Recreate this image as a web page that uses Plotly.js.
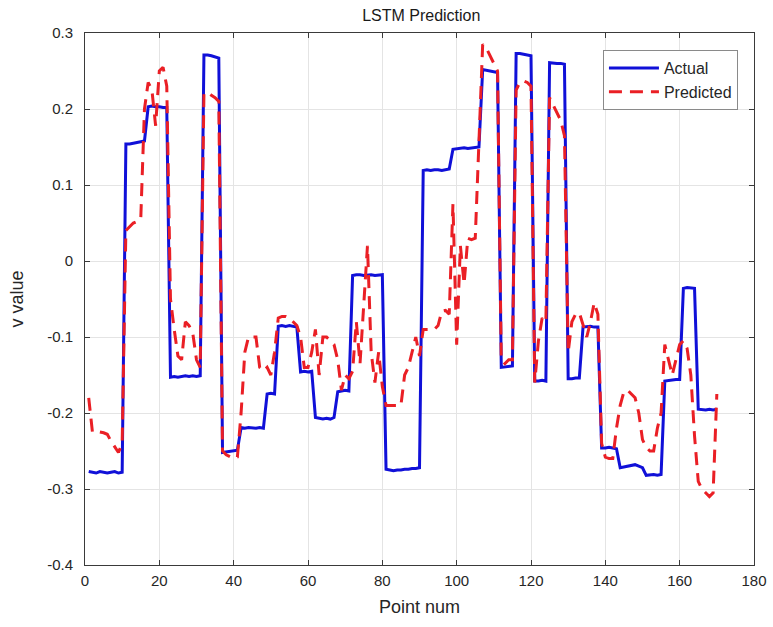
<!DOCTYPE html>
<html>
<head>
<meta charset="utf-8">
<script src="https://cdn.plot.ly/plotly-3.0.1.min.js"></script>
<style>html,body{margin:0;padding:0;background:#fff;}#chart{width:773px;height:627px;}</style>
</head>
<body>
<div id="chart"></div>
<script>
const pointNum = [1,2,3,4,5,6,7,8,9,10,11,12,13,14,15,16,17,18,19,20,21,22,23,24,25,26,27,28,29,30,31,32,33,34,35,36,37,38,39,40,41,42,43,44,45,46,47,48,49,50,51,52,53,54,55,56,57,58,59,60,61,62,63,64,65,66,67,68,69,70,71,72,73,74,75,76,77,78,79,80,81,82,83,84,85,86,87,88,89,90,91,92,93,94,95,96,97,98,99,100,101,102,103,104,105,106,107,108,109,110,111,112,113,114,115,116,117,118,119,120,121,122,123,124,125,126,127,128,129,130,131,132,133,134,135,136,137,138,139,140,141,142,143,144,145,146,147,148,149,150,151,152,153,154,155,156,157,158,159,160,161,162,163,164,165,166,167,168,169,170];

const actual = [
 -0.277,-0.278,-0.279,-0.277,-0.278,-0.279,-0.278,-0.277,-0.279,-0.278,
 0.154,0.154,0.155,0.156,0.157,0.158,
 0.203,0.204,0.203,0.203,0.202,0.202,
 -0.153,-0.152,-0.153,-0.152,-0.151,-0.152,-0.151,-0.152,-0.151,
 0.271,0.271,0.270,0.269,0.267,
 -0.252,-0.251,-0.250,-0.250,-0.249,
 -0.219,-0.220,-0.219,-0.220,-0.220,-0.219,-0.220,
 -0.175,-0.174,-0.175,
 -0.086,-0.085,-0.086,-0.085,-0.086,-0.087,
 -0.146,-0.145,-0.146,-0.145,
 -0.206,-0.207,-0.208,-0.207,-0.208,-0.206,
 -0.172,-0.171,-0.170,-0.171,
 -0.019,-0.018,-0.018,-0.019,-0.018,-0.018,-0.019,-0.018,-0.018,
 -0.274,-0.275,-0.276,-0.275,-0.275,-0.274,-0.274,-0.273,-0.273,-0.272,
 0.119,0.120,0.119,0.120,0.120,0.119,0.120,0.121,
 0.147,0.148,0.148,0.149,0.148,0.149,0.150,0.150,
 0.252,0.251,0.250,0.250,0.248,
 -0.140,-0.139,-0.139,-0.138,
 0.273,0.273,0.272,0.271,0.270,
 -0.158,-0.158,-0.157,-0.158,
 0.261,0.260,0.260,0.260,0.259,
 -0.155,-0.155,-0.154,-0.154,
 -0.087,-0.086,-0.086,-0.087,-0.087,
 -0.246,-0.246,-0.245,-0.246,-0.247,
 -0.272,-0.271,-0.270,-0.269,-0.268,-0.270,-0.272,
 -0.282,-0.281,-0.281,-0.282,-0.281,
 -0.158,-0.157,-0.157,-0.156,-0.156,
 -0.036,-0.035,-0.036,-0.036,
 -0.195,-0.196,-0.196,-0.195,-0.196,-0.195
];

const predicted = [
 -0.180,-0.225,-0.226,-0.225,-0.226,-0.228,-0.237,-0.245,-0.252,-0.240,
 0.040,0.045,0.050,0.052,0.055,0.200,0.235,0.225,0.178,0.250,
 0.255,0.230,-0.050,-0.090,-0.125,-0.130,-0.080,-0.085,-0.095,-0.130,
 -0.140,0.220,0.222,0.218,0.215,0.210,-0.250,-0.255,-0.258,-0.260,
 -0.258,-0.200,-0.120,-0.100,-0.100,-0.100,-0.140,-0.145,-0.140,-0.150,
 -0.120,-0.075,-0.073,-0.073,-0.075,-0.080,-0.085,-0.100,-0.140,-0.140,
 -0.120,-0.090,-0.150,-0.100,-0.100,-0.105,-0.110,-0.130,-0.170,-0.150,
 -0.155,-0.145,-0.080,-0.135,-0.060,0.020,-0.120,-0.160,-0.120,-0.165,
 -0.190,-0.190,-0.190,-0.190,-0.190,-0.150,-0.140,-0.120,-0.100,-0.125,
 -0.090,-0.090,-0.090,-0.090,-0.085,-0.066,-0.065,-0.070,0.075,-0.110,
 0.020,-0.030,0.030,0.028,0.030,0.155,0.285,0.280,0.270,0.262,
 0.250,-0.130,-0.135,-0.130,-0.130,0.225,0.235,0.237,0.235,0.230,
 -0.160,-0.105,-0.075,-0.080,0.215,0.205,0.195,0.185,0.165,-0.120,
 -0.080,-0.070,-0.068,-0.085,-0.100,-0.080,-0.055,-0.070,-0.240,-0.258,
 -0.260,-0.260,-0.220,-0.190,-0.172,-0.170,-0.175,-0.180,-0.200,-0.235,
 -0.245,-0.250,-0.250,-0.220,-0.200,-0.110,-0.130,-0.150,-0.130,-0.110,
 -0.105,-0.115,-0.150,-0.230,-0.290,-0.300,-0.305,-0.310,-0.305,-0.175
];

const xTicks = [0,20,40,60,80,100,120,140,160,180];
const yTicks = [-0.4,-0.3,-0.2,-0.1,0,0.1,0.2,0.3];
const yTickText = ['-0.4','-0.3','-0.2','-0.1','0','0.1','0.2','0.3'];

const font = 'Liberation Sans, Arial, Helvetica, sans-serif';

const traces = [
  {x: pointNum, y: actual, type: 'scatter', mode: 'lines', name: 'Actual',
   line: {color: '#1010d8', width: 3}},
  {x: pointNum, y: predicted, type: 'scatter', mode: 'lines', name: 'Predicted',
   line: {color: '#ea1f25', width: 3, dash: '13px,8px'}}
];

const axisCommon = {
  showline: true, linecolor: '#3a3a3a', linewidth: 1, mirror: 'allticks',
  ticks: 'inside', ticklen: 5, tickcolor: '#3a3a3a',
  showgrid: true, gridcolor: '#e4e4e4', gridwidth: 1, zeroline: false,
  tickfont: {family: font, size: 15, color: '#262626'}
};

const layout = {
  width: 773, height: 627,
  margin: {l: 85, r: 19, t: 33, b: 62},
  paper_bgcolor: '#ffffff', plot_bgcolor: '#ffffff',
  title: {text: 'LSTM Prediction', font: {family: font, size: 16, color: '#1a1a1a'},
          x: 0.545, xanchor: 'center', y: 0.985, yanchor: 'top'},
  xaxis: Object.assign({}, axisCommon, {
    range: [0, 180], tickvals: xTicks, ticktext: xTicks.map(String),
    ticklabelstandoff: 2,
    title: {text: 'Point num', font: {family: font, size: 18, color: '#262626'}, standoff: 12}
  }),
  yaxis: Object.assign({}, axisCommon, {
    range: [-0.4, 0.3], tickvals: yTicks, ticktext: yTickText,
    ticklabelstandoff: 8,
    title: {text: 'v value', font: {family: font, size: 18, color: '#262626'}, standoff: 18}
  }),
  showlegend: true,
  legend: {x: 0.976, y: 0.968, xanchor: 'right', yanchor: 'top',
           bgcolor: '#ffffff', bordercolor: '#8a8a8a', borderwidth: 1,
           font: {family: font, size: 16, color: '#262626'},
           tracegroupgap: 0, itemwidth: 50}
};

Plotly.newPlot('chart', traces, layout, {displayModeBar: false, staticPlot: true});
</script>
</body>
</html>
